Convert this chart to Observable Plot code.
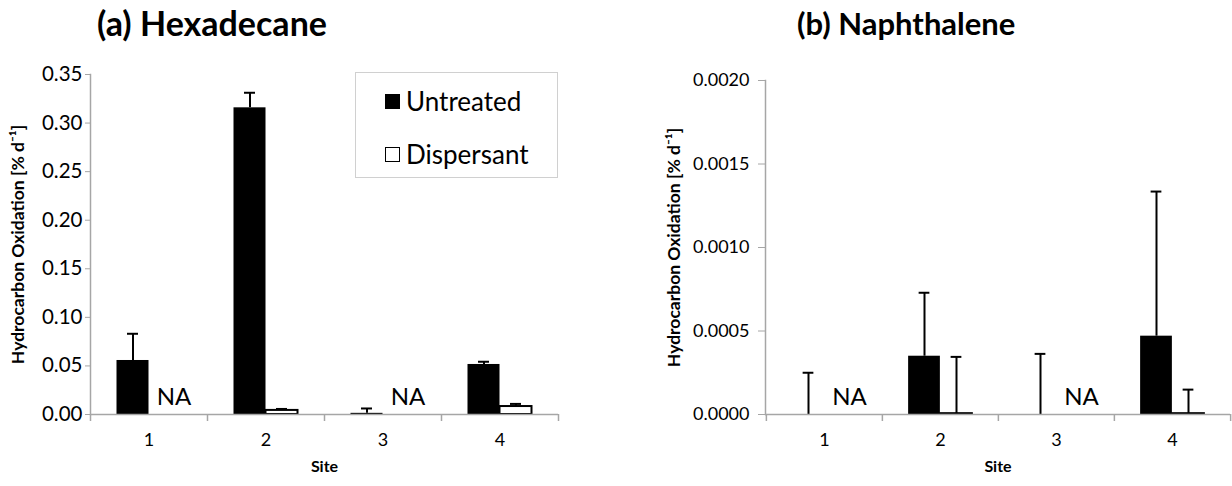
<!DOCTYPE html>
<html>
<head>
<meta charset="utf-8">
<script src="https://cdn.jsdelivr.net/npm/d3@7"></script>
<script src="https://cdn.jsdelivr.net/npm/@observablehq/plot@0.6"></script>
<style>
  html, body { margin: 0; padding: 0; background: #fff; }
  body { width: 1232px; height: 486px; position: relative; overflow: hidden; font-family: Lato, "Open Sans", sans-serif; }
  .panel { position: absolute; top: 0; width: 616px; height: 486px; }
  .title { position: absolute; font-weight: bold; color: #000; white-space: nowrap; line-height: 1; }
  .legend { position: absolute; border: 1px solid #d0d0d0; background: #fff; box-sizing: border-box; }
  .legend .item { position: absolute; display: flex; align-items: center; font-size: 26px; white-space: nowrap; line-height: 1.2; }
  .legend .sw { width: 15px; height: 15px; margin-right: 6px; box-sizing: border-box; }
</style>
</head>
<body>
<div id="left" class="panel" style="left:0"></div>
<div id="right" class="panel" style="left:616px"></div>
<script>
// ---- data ----
const sites = ["1", "2", "3", "4"];
const treatments = ["Untreated", "Dispersant"];

const hexUntreated     = [0.0556, 0.3157, 0.0012, 0.0515];
const hexUntreatedErr  = [0.0275, 0.0155, 0.0050, 0.0028];
const hexDispersant    = [null, 0.0042, null, 0.0082];
const hexDispersantErr = [null, 0.0015, null, 0.0027];

const napUntreated     = [0, 0.000349, 0, 0.000469];
const napUntreatedErr  = [0.00025, 0.00038, 0.000363, 0.000866];
const napDispersant    = [null, 0.000005, null, 0.000005];
const napDispersantErr = [null, 0.00034, null, 0.000144];

const hexTicks = [0, 0.05, 0.10, 0.15, 0.20, 0.25, 0.30, 0.35];
const napTicks = [0, 0.0005, 0.0010, 0.0015, 0.0020];

const titles = ["(a) Hexadecane", "(b) Naphthalene"];
const yTitle = "Hydrocarbon Oxidation [% d\u207B\u00B9]";
const xTitle = "Site";
const naLabel = "NA";

function rows(values, errs) {
  return sites.map((s, i) => ({site: s, value: values[i], err: errs[i], top: values[i] == null ? null : values[i] + errs[i]}))
              .filter(d => d.value != null);
}

function panel({untreated, untreatedErr, dispersant, dispersantErr, ticks, fmt, marginLeft, marginRight, marginTop, yTitleDx, tickPadY, tickSizeY, yFont}) {
  const width = 616, height = 486, marginBottom = 72;
  const bw = (width - marginLeft - marginRight) / sites.length;
  const barW = 32, capHalf = 5.5;
  const U = rows(untreated, untreatedErr);
  const D = rows(dispersant, dispersantErr);
  const naSites = sites.filter((s, i) => dispersant[i] == null);
  const axisGray = "#a6a6a6";
  return Plot.plot({
    width, height, marginLeft, marginRight, marginTop, marginBottom,
    style: {fontFamily: "Lato, 'Open Sans', sans-serif", fontSize: "16px", color: "#000", background: "#fff"},
    x: {type: "band", domain: sites, padding: 0, axis: null, label: null},
    y: {domain: [ticks[0], ticks[ticks.length - 1]], axis: null, label: null},
    marks: [
      // bars
      Plot.barY(U, {x: "site", y: "value", fill: "#000", insetLeft: bw / 2 - barW, insetRight: bw / 2}),
      Plot.barY(D, {x: "site", y: "value", fill: "#fff", stroke: "#000", strokeWidth: 2, insetLeft: bw / 2, insetRight: bw / 2 - barW}),
      // error bars
      Plot.ruleX(U, {x: "site", y1: "value", y2: "top", dx: -barW / 2, stroke: "#000", strokeWidth: 2}),
      Plot.tickY(U, {x: "site", y: "top", stroke: "#000", strokeWidth: 2, insetLeft: bw / 2 - barW / 2 - capHalf, insetRight: bw / 2 + barW / 2 - capHalf}),
      Plot.ruleX(D, {x: "site", y1: "value", y2: "top", dx: barW / 2, stroke: "#000", strokeWidth: 2}),
      Plot.tickY(D, {x: "site", y: "top", stroke: "#000", strokeWidth: 2, insetLeft: bw / 2 + barW / 2 - capHalf, insetRight: bw / 2 - barW / 2 - capHalf}),
      // NA labels
      Plot.text(naSites, {x: d => d, y: () => 0, text: () => naLabel, dx: 25, dy: -17, fontSize: 24, fill: "#000"}),
      // axes
      Plot.frame({anchor: "left", stroke: axisGray, strokeWidth: 1.5}),
      Plot.ruleY([0], {stroke: axisGray, strokeWidth: 1.5}),
      Plot.axisY({ticks, tickFormat: fmt, tickSize: tickSizeY, tickPadding: tickPadY, stroke: axisGray, fontSize: yFont, fill: "#000", label: null}),
      Plot.axisX({ticks: sites, tickSize: 7, text: null, dx: -bw / 2, stroke: axisGray, strokeWidth: 1.5, label: null}),
      Plot.axisX({ticks: [sites[sites.length - 1]], tickSize: 7, text: null, dx: bw / 2, stroke: axisGray, strokeWidth: 1.5, label: null}),
      Plot.axisX({ticks: sites, tickSize: 0, tickPadding: 19, fontSize: 18, fill: "#000", label: null}),
      // axis titles
      Plot.text([xTitle], {frameAnchor: "bottom", dy: 57, fontWeight: "bold", fontSize: 16, fill: "#000"}),
      Plot.text([yTitle], {frameAnchor: "left", textAnchor: "middle", dx: yTitleDx, rotate: -90, fontWeight: "bold", fontSize: 17.5, fill: "#000"})
    ]
  });
}

const left = panel({
  untreated: hexUntreated, untreatedErr: hexUntreatedErr,
  dispersant: hexDispersant, dispersantErr: hexDispersantErr,
  ticks: hexTicks, fmt: d3.format(".2f"),
  marginLeft: 90, marginRight: 58, marginTop: 74, yTitleDx: -72, tickPadY: 3, tickSizeY: 5, yFont: 20.5
});
const right = panel({
  untreated: napUntreated, untreatedErr: napUntreatedErr,
  dispersant: napDispersant, dispersantErr: napDispersantErr,
  ticks: napTicks, fmt: d3.format(".4f"),
  marginLeft: 149, marginRight: 2, marginTop: 80, yTitleDx: -91, tickPadY: 9, tickSizeY: 7, yFont: 18
});

document.getElementById("left").appendChild(left);
document.getElementById("right").appendChild(right);

// titles
function addTitle(parent, text, x, size) {
  const t = document.createElement("div");
  t.className = "title";
  t.textContent = text;
  t.style.left = x + "px";
  t.style.top = size > 32 ? "6px" : "8px";
  t.style.fontSize = size + "px";
  parent.appendChild(t);
}
addTitle(document.getElementById("left"), titles[0], 97, 34);
addTitle(document.getElementById("right"), titles[1], 181, 31);

// legend
const lg = document.createElement("div");
lg.className = "legend";
Object.assign(lg.style, {left: "355px", top: "72px", width: "203px", height: "106px"});
treatments.forEach((t, i) => {
  const it = document.createElement("div");
  it.className = "item";
  it.style.left = "29px";
  it.style.top = (i === 0 ? 13 : 66) + "px";
  const sw = document.createElement("div");
  sw.className = "sw";
  sw.style.background = i === 0 ? "#000" : "#fff";
  sw.style.border = "1.5px solid #000";
  const lab = document.createElement("span");
  lab.textContent = t;
  it.appendChild(sw); it.appendChild(lab);
  lg.appendChild(it);
});
document.getElementById("left").appendChild(lg);
</script>
</body>
</html>
